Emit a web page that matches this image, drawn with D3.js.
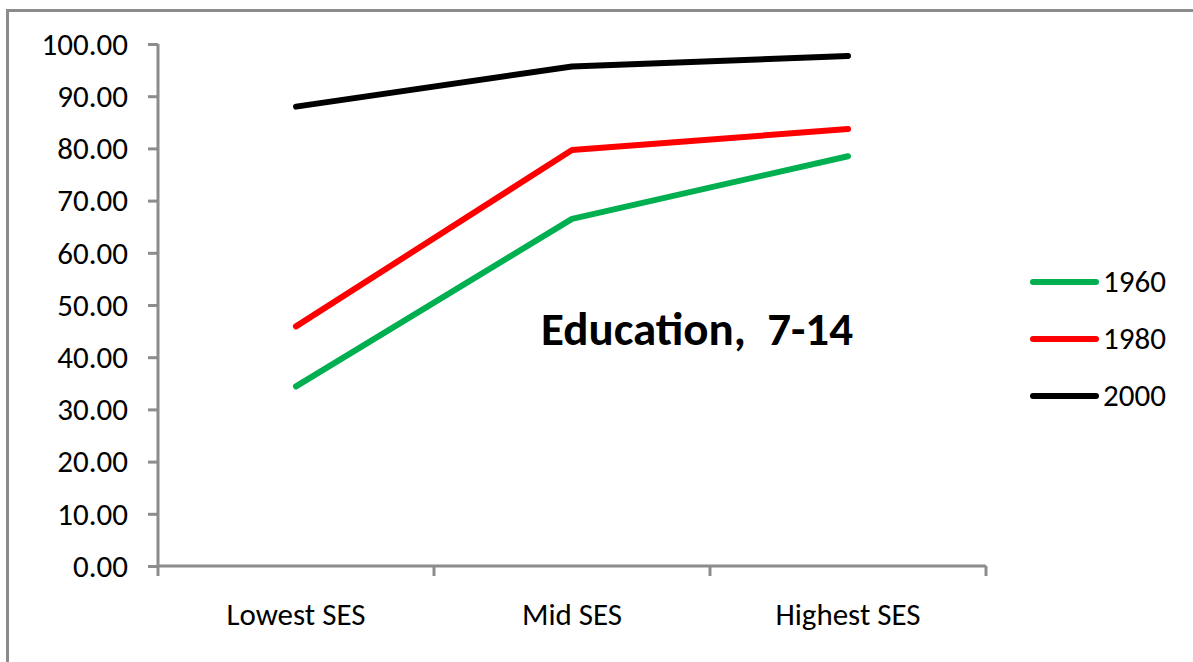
<!DOCTYPE html>
<html>
<head>
<meta charset="utf-8">
<script src="https://cdn.jsdelivr.net/npm/d3@7"></script>
<style>
  html, body { margin: 0; padding: 0; background: #fff; }
  svg { display: block; }
  text { font-family: Carlito, Calibri, Lato, "Open Sans", sans-serif; fill: #000; }
</style>
</head>
<body>
<svg id="chart" width="1193" height="662"></svg>
<script>
// Share of children aged 7-14 in education, by socio-economic status
const categories = ["Lowest SES", "Mid SES", "Highest SES"];
const years = ["1960", "1980", "2000"];
const values1960 = [34.4, 66.5, 78.5];
const values1980 = [45.9, 79.7, 83.7];
const values2000 = [88.0, 95.7, 97.7];
const yTicks = [0, 10, 20, 30, 40, 50, 60, 70, 80, 90, 100];
const colors = ["#00B050", "#FF0000", "#000000"];
const chartTitle = "Education,  7-14";

const series = [values1960, values1980, values2000].map((v, i) => ({
  name: years[i], color: colors[i], values: v
}));

const svg = d3.select("#chart");
const axisGrey = "#8c8c8c";
const labelSize = "31px";

// outer frame of the chart area
svg.append("rect")
  .attr("x", 7.5).attr("y", 10.5)
  .attr("width", 1300).attr("height", 800)
  .attr("fill", "none").attr("stroke", axisGrey).attr("stroke-width", 3);

const plot = { left: 158, right: 986, top: 44, bottom: 566 };

const x = d3.scaleBand().domain(categories).range([plot.left, plot.right]).padding(0);
const y = d3.scaleLinear().domain([0, 100]).range([plot.bottom, plot.top]);
const xc = c => x(c) + x.bandwidth() / 2;

// y axis
const yAxis = svg.append("g")
  .attr("transform", `translate(${plot.left},0)`)
  .call(d3.axisLeft(y).tickValues(yTicks).tickFormat(d3.format(".2f")).tickSize(10).tickPadding(20));
yAxis.select(".domain").attr("stroke", axisGrey).attr("stroke-width", 3)
  .attr("d", `M0,${plot.top}V${plot.bottom}`);
yAxis.selectAll(".tick line").attr("stroke", axisGrey).attr("stroke-width", 3);
yAxis.selectAll(".tick text").style("font-size", labelSize).attr("dy", "0.33em");

// x axis with ticks between categories
const xAxis = svg.append("g").attr("transform", `translate(0,${plot.bottom})`);
xAxis.append("line")
  .attr("x1", plot.left).attr("x2", plot.right)
  .attr("stroke", axisGrey).attr("stroke-width", 3);
const boundaries = categories.map(c => x(c)).concat([plot.right]);
xAxis.selectAll("line.tick").data(boundaries).join("line")
  .attr("class", "tick")
  .attr("x1", d => d).attr("x2", d => d)
  .attr("y1", 0).attr("y2", 10)
  .attr("stroke", axisGrey).attr("stroke-width", 3);
xAxis.selectAll("text").data(categories).join("text")
  .attr("x", d => xc(d)).attr("y", 59)
  .attr("text-anchor", "middle")
  .style("font-size", labelSize)
  .text(d => d);

// series lines
const line = d3.line().x((d, i) => xc(categories[i])).y(d => y(d));
svg.append("g").selectAll("path").data(series).join("path")
  .attr("d", d => line(d.values))
  .attr("fill", "none")
  .attr("stroke", d => d.color)
  .attr("stroke-width", 6)
  .attr("stroke-linecap", "round")
  .attr("stroke-linejoin", "round");

// in-plot title
svg.append("text")
  .attr("x", 697).attr("y", 345)
  .attr("text-anchor", "middle")
  .style("font-size", "47px").style("font-weight", "bold")
  .attr("xml:space", "preserve")
  .text(chartTitle);

// legend
const legend = svg.append("g").selectAll("g").data(series).join("g")
  .attr("transform", (d, i) => `translate(1033,${282 + i * 57})`);
legend.append("line")
  .attr("x1", 0).attr("x2", 63)
  .attr("stroke", d => d.color).attr("stroke-width", 6)
  .attr("stroke-linecap", "round");
legend.append("text")
  .attr("x", 70).attr("dy", "0.33em")
  .style("font-size", labelSize)
  .text(d => d.name);
</script>
</body>
</html>
